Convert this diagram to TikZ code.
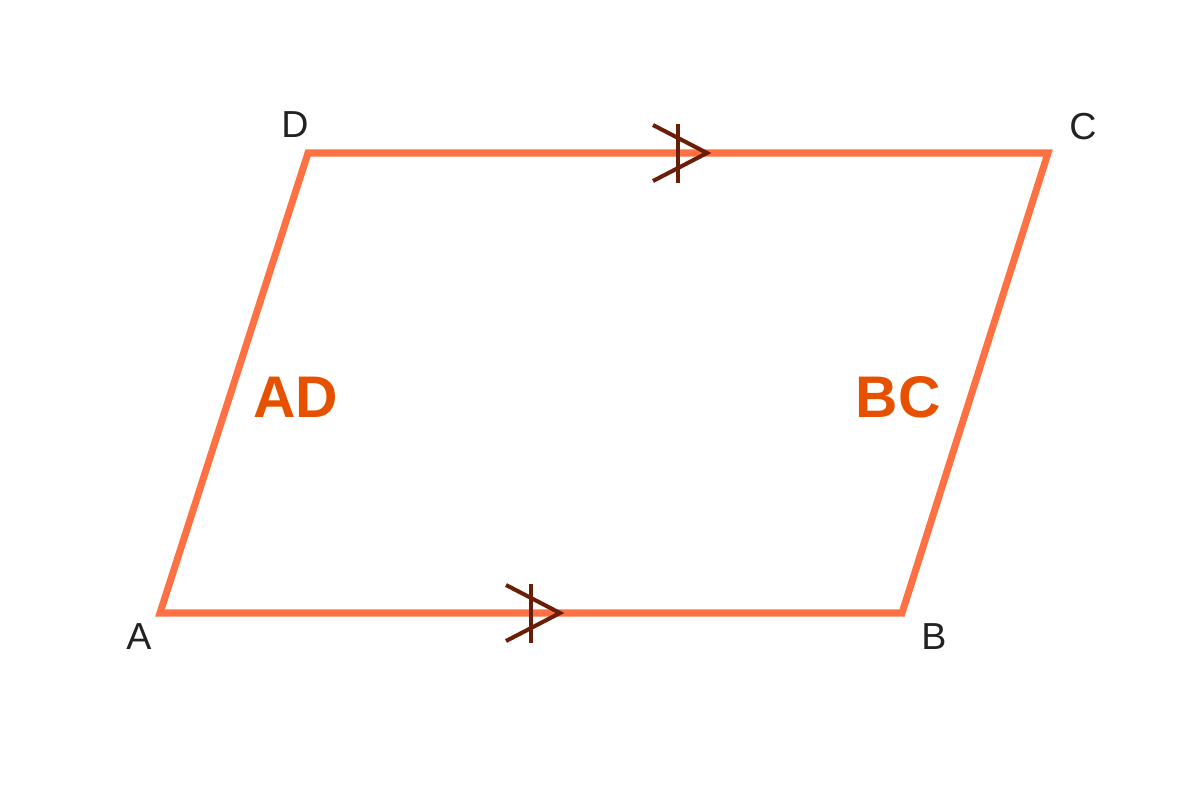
\documentclass[tikz,border=0pt]{standalone}
\usepackage{fontspec}
\setmainfont{Liberation Sans}
\definecolor{edgeor}{HTML}{FF7043}
\definecolor{labor}{HTML}{E65100}
\definecolor{markc}{HTML}{6B1E06}
\definecolor{txt}{HTML}{222222}
\begin{document}
\begin{tikzpicture}[x=0.01cm,y=-0.01cm,
  side/.style={draw=edgeor,line width=2pt,line join=miter},
  tickmark/.style={draw=markc,line width=1.15pt},
  vlabel/.style={text=txt,font=\fontsize{10.7}{12}\selectfont,inner sep=0pt},
  sidelabel/.style={text=labor,font=\fontsize{16.7}{19}\selectfont\bfseries,inner sep=0pt}]
\useasboundingbox (0,0) rectangle (1200,800);
\coordinate (A) at (160,613);
\coordinate (B) at (902,613);
\coordinate (C) at (1048,153);
\coordinate (D) at (308,153);
\draw[side] (A) -- (B) -- (C) -- (D) -- cycle;
% marks on DC
\coordinate (t1) at (707,153);
\coordinate (t1a) at (653,125);
\coordinate (t1b) at (653,181);
\coordinate (t1u) at (678,124);
\coordinate (t1d) at (678,183);
\draw[tickmark] (t1a) -- (t1) -- (t1b);
\draw[tickmark] (t1u) -- (t1d);
% marks on AB
\coordinate (t2) at (560,613);
\coordinate (t2a) at (506,585);
\coordinate (t2b) at (506,641);
\coordinate (t2u) at (531,584);
\coordinate (t2d) at (531,643);
\draw[tickmark] (t2a) -- (t2) -- (t2b);
\draw[tickmark] (t2u) -- (t2d);
% vertex labels
\node[vlabel] (lD) at (295,125) {D};
\node[vlabel] (lC) at (1083,127) {C};
\node[vlabel] (lA) at (139,637) {A};
\node[vlabel] (lB) at (934,637) {B};
% side labels
\node[sidelabel] (lAD) at (296,397) {AD};
\node[sidelabel] (lBC) at (898,397) {BC};
\end{tikzpicture}
\end{document}
